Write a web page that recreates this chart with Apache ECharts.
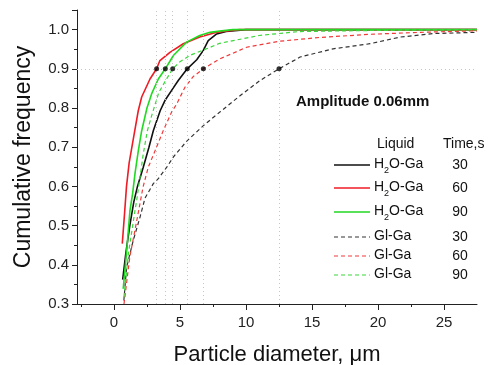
<!DOCTYPE html>
<html>
<head>
<meta charset="utf-8">
<script src="https://cdn.jsdelivr.net/npm/echarts@6/dist/echarts.min.js"></script>
<style>
  html, body { margin: 0; padding: 0; background: #fff; }
  #chart { width: 491px; height: 365px; }
</style>
</head>
<body>
<div id="chart"></div>
<script>
// curves: [diameter, cumulative frequency]
const h2o30 = [[0.66,0.362],[0.9,0.43],[1.2,0.5],[1.5,0.56],[1.78,0.6],[2.22,0.649],[2.65,0.7],[2.98,0.742],[3.5,0.793],[3.86,0.819],[4.37,0.845],[4.87,0.87],[5.55,0.9],[6.27,0.923],[6.77,0.947],[7.14,0.972],[7.78,0.989],[8.5,0.995],[10,1.0],[27.5,1.0]];
const h2o60 = [[0.63,0.454],[0.8,0.53],[0.95,0.6],[1.15,0.66],[1.46,0.72],[1.84,0.793],[2.1,0.828],[2.73,0.874],[3.23,0.9],[3.48,0.921],[4.24,0.942],[5.25,0.964],[6.5,0.981],[7.78,0.993],[8.4,0.996],[9.5,1.0],[27.5,1.0]];
const h2o90 = [[0.7,0.339],[0.95,0.43],[1.21,0.538],[1.41,0.581],[1.59,0.632],[1.84,0.69],[2.1,0.742],[2.5,0.8],[2.85,0.836],[3.36,0.874],[3.89,0.9],[4.5,0.934],[5.5,0.968],[6.5,0.985],[7.27,0.993],[8.0,0.996],[9,1.0],[27.5,1.0]];
const gl30 = [[0.75,0.309],[0.96,0.394],[1.46,0.462],[1.97,0.521],[2.35,0.57],[2.98,0.607],[3.36,0.62],[4.0,0.649],[4.5,0.675],[5.5,0.715],[6.77,0.755],[8.0,0.789],[9.5,0.83],[11.06,0.87],[12.5,0.9],[14.1,0.93],[16.6,0.951],[19.4,0.964],[21.7,0.981],[24.2,0.99],[27.5,0.993]];
const gl60 = [[0.76,0.3],[1.2,0.42],[1.6,0.49],[1.92,0.547],[2.2,0.598],[2.6,0.649],[3.1,0.69],[3.73,0.742],[4.37,0.79],[4.75,0.81],[5.38,0.853],[6.0,0.88],[6.77,0.9],[8.0,0.925],[10.05,0.955],[12.45,0.97],[15.6,0.98],[19.4,0.988],[23.2,0.993],[27.5,0.997]];
const gl90 = [[0.75,0.317],[1.1,0.43],[1.59,0.538],[1.72,0.564],[1.97,0.623],[2.22,0.683],[2.53,0.742],[2.85,0.78],[3.4,0.84],[4.0,0.875],[4.45,0.9],[5.0,0.918],[5.8,0.935],[7.3,0.955],[8,0.965],[11,0.985],[14,0.995],[20,0.998],[27.5,1.0]];

// d(0.9) markers and guide lines
const level = 0.9;
const d90 = [3.23, 3.89, 4.45, 5.55, 6.77, 12.5];

const xLabels = [0, 5, 10, 15, 20, 25];
const xMinorTicks = [-2.5, 0, 2.5, 5, 7.5, 10, 12.5, 15, 17.5, 20, 22.5, 25];

const liquids = ['H2O-Ga', 'H2O-Ga', 'H2O-Ga', 'Gl-Ga', 'Gl-Ga', 'Gl-Ga'];
const times = ['30', '60', '90', '30', '60', '90'];
const colors = ['#111111', '#ee1c25', '#22d822', '#333333', '#f03a3a', '#3ad83a'];
const curves = [h2o30, h2o60, h2o90, gl30, gl60, gl90];

const chart = echarts.init(document.getElementById('chart'));

const lineSeries = curves.map((c, i) => ({
  type: 'line',
  data: c,
  symbol: 'none',
  smooth: false,
  z: 3,
  lineStyle: {
    color: colors[i],
    width: i < 3 ? 1.6 : 1.2,
    type: i < 3 ? 'solid' : [4, 3]
  },
  silent: true
}));

// legend drawn as graphic rows
const rowY = [165, 188, 212, 237, 256, 275];
const legendGfx = [];
legendGfx.push({ type: 'text', left: 377, top: 137, style: { text: 'Liquid', font: '14px "Liberation Sans", Arial', fill: '#111' } });
legendGfx.push({ type: 'text', left: 443, top: 137, style: { text: 'Time,s', font: '14px "Liberation Sans", Arial', fill: '#111' } });
rowY.forEach((y, i) => {
  legendGfx.push({
    type: 'line',
    shape: { x1: 334, y1: y, x2: 370, y2: y },
    style: { stroke: colors[i], lineWidth: i < 3 ? 1.6 : 1.2, lineDash: i < 3 ? null : [4, 3] }
  });
  const isH2O = liquids[i].indexOf('H2O') === 0;
  legendGfx.push({
    type: 'text',
    x: 374, y: y - 8,
    style: {
      text: isH2O ? '{n|H}{s|2}{n|O-Ga}' : '{n|' + liquids[i] + '}',
      rich: {
        n: { font: '14px "Liberation Sans", Arial', fill: '#111', verticalAlign: 'top', lineHeight: 16 },
        s: { font: '9px "Liberation Sans", Arial', fill: '#111', padding: [9, 0, 0, 0], verticalAlign: 'top', lineHeight: 16 }
      }
    }
  });
  legendGfx.push({
    type: 'text', x: 460, y: y,
    style: { text: times[i], font: '14px "Liberation Sans", Arial', fill: '#111', align: 'center', verticalAlign: 'middle' }
  });
});
legendGfx.push({ type: 'text', left: 296, top: 94, style: { text: 'Amplitude 0.06mm', font: 'bold 15px "Liberation Sans", Arial', fill: '#111' } });

chart.setOption({
  animation: false,
  backgroundColor: '#fff',
  grid: { left: 77, right: 14, top: 10, bottom: 61, outerBoundsMode: 'none' },
  xAxis: [{
    type: 'value',
    min: -2.8,
    max: 27.5,
    name: 'Particle diameter, \u03bcm',
    nameLocation: 'middle',
    nameGap: 40,
    nameTextStyle: { fontSize: 22, color: '#111', fontFamily: 'Liberation Sans' },
    axisLine: { onZero: false, lineStyle: { color: '#222', width: 1 } },
    axisTick: { customValues: xMinorTicks, length: 3, lineStyle: { color: '#222' } },
    axisLabel: { customValues: xLabels, fontSize: 15, color: '#222', margin: 11, fontFamily: 'Liberation Sans' },
    splitLine: { show: false }
  }, {
    type: 'value',
    min: -2.8,
    max: 27.5,
    position: 'bottom',
    axisLine: { show: false, onZero: false },
    axisTick: { customValues: xLabels, length: 6, lineStyle: { color: '#222' } },
    axisLabel: { show: false },
    splitLine: { show: false }
  }],
  yAxis: {
    type: 'value',
    min: 0.3,
    max: 1.05,
    interval: 0.1,
    name: 'Cumulative frequency',
    nameLocation: 'middle',
    nameGap: 42,
    nameTextStyle: { fontSize: 23, color: '#111', fontFamily: 'Liberation Sans' },
    axisLine: { show: true, onZero: false, lineStyle: { color: '#222', width: 1 } },
    axisTick: { show: true, length: 5, lineStyle: { color: '#222' } },
    minorTick: { show: true, splitNumber: 2, length: 3, lineStyle: { color: '#222' } },
    axisLabel: {
      fontSize: 15, color: '#222', margin: 8, fontFamily: 'Liberation Sans',
      formatter: v => (v > 1.001 ? '' : v.toFixed(1))
    },
    splitLine: { show: false }
  },
  graphic: legendGfx,
  series: [
    {
      type: 'scatter',
      data: d90.map(x => [x, level]),
      symbolSize: 5,
      itemStyle: { color: '#000' },
      z: 5,
      silent: true,
      markLine: {
        silent: true,
        symbol: 'none',
        label: { show: false },
        lineStyle: { color: '#c4c4c4', type: [1, 3], width: 1 },
        data: [{ yAxis: level }].concat(d90.map(x => ({ xAxis: x })))
      }
    }
  ].concat(lineSeries)
});
</script>
</body>
</html>
